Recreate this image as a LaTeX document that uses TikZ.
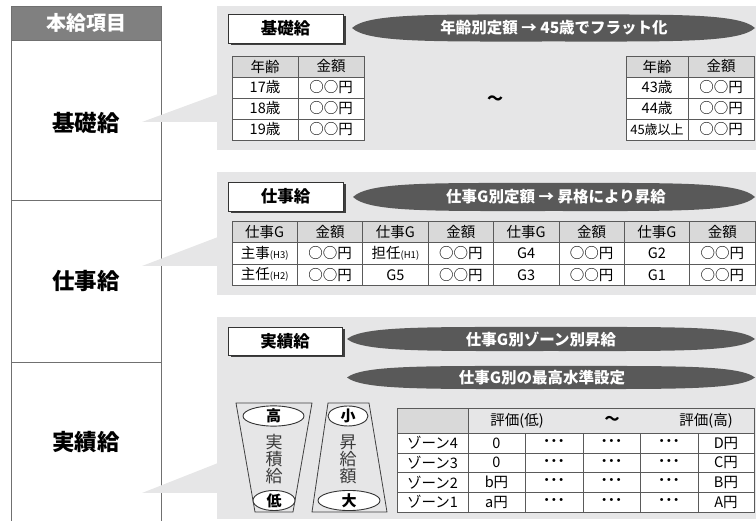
\documentclass[tikz,border=0pt]{standalone}
\usepackage{fontspec}
\setmainfont{Noto Sans CJK JP}
\usetikzlibrary{shapes.geometric,shadows}
\definecolor{panelgray}{HTML}{E6E6E7}
\definecolor{headgray}{HTML}{808080}
\definecolor{bannergray}{HTML}{595959}
\definecolor{tblhdr}{HTML}{D9D9D9}
\definecolor{tblline}{HTML}{5A5A5A}
\definecolor{colline}{HTML}{707070}
\definecolor{vtext}{HTML}{3A3A3A}
\newcommand{\fs}[1]{\fontsize{#1}{#1}\selectfont}
\newcommand{\mybanner}[4]{%
  \fill[bannergray] (#1,#3) .. controls ({#1+0.04*(#2-#1)},{#3-1.1*#4}) and ({#1+0.2*(#2-#1)},{#3-#4}) .. ({(#1+#2)/2},{#3-#4})
    .. controls ({#2-0.2*(#2-#1)},{#3-#4}) and ({#2-0.04*(#2-#1)},{#3-1.1*#4}) .. (#2,#3)
    .. controls ({#2-0.04*(#2-#1)},{#3+1.1*#4}) and ({#2-0.2*(#2-#1)},{#3+#4}) .. ({(#1+#2)/2},{#3+#4})
    .. controls ({#1+0.2*(#2-#1)},{#3+#4}) and ({#1+0.04*(#2-#1)},{#3+1.1*#4}) .. (#1,#3) -- cycle;}
\newcommand{\tcell}[7]{%
  \node[cellst, fill=#6, minimum width={(#4-#2)*1pt}, minimum height={(#5-#3)*1pt}] (#1) at ({(#2+#4)/2},{(#3+#5)/2}) {#7};}
\newcommand{\sm}[1]{{\fs{9.5}#1}}
\begin{document}
\begin{tikzpicture}[x=1pt,y=-1pt,
  cellst/.style={draw=tblline, line width=0.8pt, inner sep=0pt, font=\fs{14.5}, text=black},
  lefttxt/.style={font=\bfseries\fs{22.5}, text=black},
  titlebox/.style={draw=black!80, line width=0.8pt, fill=white, minimum width=115pt, minimum height=29pt, inner sep=0pt,
     font=\bfseries\fs{16.5}, drop shadow={shadow xshift=2.5pt, shadow yshift=-2.5pt, fill=black!75, opacity=1}},
  bannertext/.style={font=\bfseries\fs{15.5}, text=white, inner sep=0pt},
  trapst/.style={draw=black!75, line width=0.8pt, fill=panelgray},
  ellst/.style={ellipse, draw=black!80, line width=0.9pt, fill=white, inner sep=0pt, font=\bfseries\fs{15}},
  vtxt/.style={align=center, font=\fs{17}, text=vtext, inner sep=0pt}
]
\useasboundingbox (0,0) rectangle (756,521);
% ---------- left column ----------
\fill[headgray] (11,6) rectangle (161,40);
\draw[colline, line width=0.8pt] (11,521) -- (11,6) -- (161,6) -- (161,521);
\draw[colline, line width=0.8pt] (11,40) -- (161,40) (11,200) -- (161,200) (11,362) -- (161,362);
\node[font=\bfseries\fs{20}, text=white] (hdr) at (86,23) {本給項目};
\node[lefttxt] (lk) at (86,123) {基礎給};
\node[lefttxt] (ls) at (86,281) {仕事給};
\node[lefttxt] (lj) at (86,442) {実績給};
% ---------- panels ----------
\fill[panelgray] (217,6) rectangle (756,150);
\fill[panelgray] (217,172) rectangle (756,295);
\fill[panelgray] (217,317) rectangle (756,519);
% callout wedges
\coordinate (w1) at (142,122);
\coordinate (w2) at (142,266);
\coordinate (w3) at (142,493);
\fill[panelgray] (w1) -- (218,94) -- (218,122) -- cycle;
\fill[panelgray] (w2) -- (218,237) -- (218,266) -- cycle;
\fill[panelgray] (w3) -- (218,463) -- (218,493) -- cycle;
% ---------- panel 1 ----------
\node[titlebox] (t1) at (285.5,28.5) {基礎給};
\mybanner{352}{755}{28}{13.5}
\node[bannertext] (b1) at (554,28) {年齢別定額 → 45歳でフラット化};
\tcell{a11}{232}{56}{298}{77}{tblhdr}{年齢}
\tcell{a12}{298}{56}{364}{77}{tblhdr}{金額}
\tcell{a21}{232}{77}{298}{98}{white}{17歳}
\tcell{a22}{298}{77}{364}{98}{white}{○○円}
\tcell{a31}{232}{98}{298}{119}{white}{18歳}
\tcell{a32}{298}{98}{364}{119}{white}{○○円}
\tcell{a41}{232}{119}{298}{140}{white}{19歳}
\tcell{a42}{298}{119}{364}{140}{white}{○○円}
\node[font=\bfseries\fs{16}] (tl) at (495,100) {～};
\tcell{c11}{626}{56}{688}{77}{tblhdr}{年齢}
\tcell{c12}{688}{56}{754}{77}{tblhdr}{金額}
\tcell{c21}{626}{77}{688}{98}{white}{43歳}
\tcell{c22}{688}{77}{754}{98}{white}{○○円}
\tcell{c31}{626}{98}{688}{119}{white}{44歳}
\tcell{c32}{688}{98}{754}{119}{white}{○○円}
\tcell{c41}{626}{119}{688}{140}{white}{\fs{13}45歳以上}
\tcell{c42}{688}{119}{754}{140}{white}{○○円}
% ---------- panel 2 ----------
\node[titlebox] (t2) at (285.5,196.5) {仕事給};
\mybanner{353}{755}{197}{14}
\node[bannertext] (b2) at (556,197) {仕事G別定額 → 昇格により昇給};
\tcell{d11}{232}{221}{297.4}{242.5}{tblhdr}{仕事G}
\tcell{d12}{297.4}{221}{362.75}{242.5}{tblhdr}{金額}
\tcell{d13}{362.75}{221}{428.1}{242.5}{tblhdr}{仕事G}
\tcell{d14}{428.1}{221}{493.5}{242.5}{tblhdr}{金額}
\tcell{d15}{493.5}{221}{558.9}{242.5}{tblhdr}{仕事G}
\tcell{d16}{558.9}{221}{624.25}{242.5}{tblhdr}{金額}
\tcell{d17}{624.25}{221}{689.6}{242.5}{tblhdr}{仕事G}
\tcell{d18}{689.6}{221}{755}{242.5}{tblhdr}{金額}
\tcell{d21}{232}{242.5}{297.4}{264}{white}{主事\sm{(H3)}}
\tcell{d22}{297.4}{242.5}{362.75}{264}{white}{○○円}
\tcell{d23}{362.75}{242.5}{428.1}{264}{white}{担任\sm{(H1)}}
\tcell{d24}{428.1}{242.5}{493.5}{264}{white}{○○円}
\tcell{d25}{493.5}{242.5}{558.9}{264}{white}{G4}
\tcell{d26}{558.9}{242.5}{624.25}{264}{white}{○○円}
\tcell{d27}{624.25}{242.5}{689.6}{264}{white}{G2}
\tcell{d28}{689.6}{242.5}{755}{264}{white}{○○円}
\tcell{d31}{232}{264}{297.4}{285.5}{white}{主任\sm{(H2)}}
\tcell{d32}{297.4}{264}{362.75}{285.5}{white}{○○円}
\tcell{d33}{362.75}{264}{428.1}{285.5}{white}{G5}
\tcell{d34}{428.1}{264}{493.5}{285.5}{white}{○○円}
\tcell{d35}{493.5}{264}{558.9}{285.5}{white}{G3}
\tcell{d36}{558.9}{264}{624.25}{285.5}{white}{○○円}
\tcell{d37}{624.25}{264}{689.6}{285.5}{white}{G1}
\tcell{d38}{689.6}{264}{755}{285.5}{white}{○○円}
% ---------- panel 3 ----------
\node[titlebox, minimum width=114pt, minimum height=28pt] (t3) at (285,341) {実績給};
\mybanner{347}{755}{339}{12}
\node[bannertext] (b3) at (541,339) {仕事G別ゾーン別昇給};
\mybanner{347}{755}{377.5}{11.5}
\node[bannertext] (b4) at (542,377.5) {仕事G別の最高水準設定};
% trapezoids
\draw[trapst] (236,403) -- (312,403) -- (293,512) -- (255,512) -- cycle;
\draw[trapst] (328,403) -- (369,403) -- (387,512) -- (312,512) -- cycle;
\node[ellst, minimum width=61pt, minimum height=20pt] (hi) at (273.5,416) {高};
\node[ellst, minimum width=42pt, minimum height=19pt] (lo) at (274,500.5) {低};
\node[ellst, minimum width=40pt, minimum height=20pt] (sm) at (348,416) {小};
\node[ellst, minimum width=62pt, minimum height=19pt] (bg) at (349,500.5) {大};
\node[vtxt] (v1) at (274,459) {実\\積\\給};
\node[vtxt] (v2) at (348,459) {昇\\給\\額};
% zone table
\tcell{z00}{397}{408}{468}{433}{tblhdr}{}
\tcell{z0r}{468}{408}{754}{433}{panelgray}{}
\node[font=\fs{14.5}] (zh1) at (517,420.5) {評価(低)};
\node[font=\bfseries\fs{15}] (zh2) at (612,420.5) {～};
\node[font=\fs{14.5}] (zh3) at (706,420.5) {評価(高)};
\tcell{z11}{397}{433}{468}{453}{white}{ゾーン4}
\tcell{z12}{468}{433}{525}{453}{white}{0}
\tcell{z13}{525}{433}{583}{453}{white}{\bfseries･･･}
\tcell{z14}{583}{433}{640}{453}{white}{\bfseries･･･}
\tcell{z15}{640}{433}{698}{453}{white}{\bfseries･･･}
\tcell{z16}{698}{433}{754}{453}{white}{D円}
\tcell{z21}{397}{453}{468}{472.5}{white}{ゾーン3}
\tcell{z22}{468}{453}{525}{472.5}{white}{0}
\tcell{z23}{525}{453}{583}{472.5}{white}{\bfseries･･･}
\tcell{z24}{583}{453}{640}{472.5}{white}{\bfseries･･･}
\tcell{z25}{640}{453}{698}{472.5}{white}{\bfseries･･･}
\tcell{z26}{698}{453}{754}{472.5}{white}{C円}
\tcell{z31}{397}{472.5}{468}{492}{white}{ゾーン2}
\tcell{z32}{468}{472.5}{525}{492}{white}{b円}
\tcell{z33}{525}{472.5}{583}{492}{white}{\bfseries･･･}
\tcell{z34}{583}{472.5}{640}{492}{white}{\bfseries･･･}
\tcell{z35}{640}{472.5}{698}{492}{white}{\bfseries･･･}
\tcell{z36}{698}{472.5}{754}{492}{white}{B円}
\tcell{z41}{397}{492}{468}{512}{white}{ゾーン1}
\tcell{z42}{468}{492}{525}{512}{white}{a円}
\tcell{z43}{525}{492}{583}{512}{white}{\bfseries･･･}
\tcell{z44}{583}{492}{640}{512}{white}{\bfseries･･･}
\tcell{z45}{640}{492}{698}{512}{white}{\bfseries･･･}
\tcell{z46}{698}{492}{754}{512}{white}{A円}
\end{tikzpicture}
\end{document}
